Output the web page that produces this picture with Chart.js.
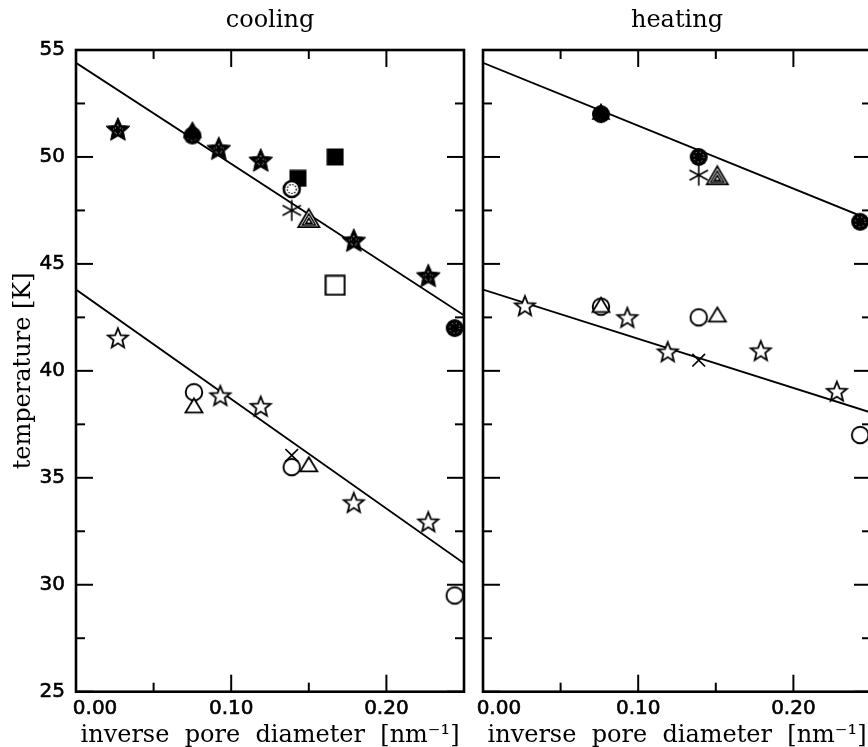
<!DOCTYPE html>
<html>
<head>
<meta charset="utf-8">
<script src="https://cdn.jsdelivr.net/npm/chart.js@4.4.1/dist/chart.umd.min.js"></script>
<style>
  html, body { margin: 0; padding: 0; background: #fff; width: 868px; height: 747px; overflow: hidden; }
  .panel { position: absolute; top: 0; width: 470px; height: 747px; }
  #coolBox { left: 0; }
  #heatBox { left: 407px; }
</style>
</head>
<body>
<div class="panel" id="coolBox"><canvas id="cool" width="470" height="747"></canvas></div>
<div class="panel" id="heatBox"><canvas id="heat" width="470" height="747"></canvas></div>
<script>
// ---- axes ----
const xMajor = [0, 0.1, 0.2];
const xMinor = [0.05, 0.15, 0.25];
const xTickLabels = ['0.00', '0.10', '0.20'];
const yMajor = [25, 30, 35, 40, 45, 50, 55];
const yMinor = [27.5, 32.5, 37.5, 42.5, 47.5, 52.5];

// ---- fit lines (values at x = 0 and x = 0.25) ----
const fitX = [0, 0.25];
const coolUpperFit = [54.4, 42.6];
const coolLowerFit = [43.8, 31.0];
const heatUpperFit = [54.4, 47.05];
const heatLowerFit = [43.8, 38.05];

// ---- cooling ----
const coolFilledStarX = [0.027, 0.092, 0.119, 0.179, 0.227];
const coolFilledStarY = [51.3, 50.4, 49.85, 46.1, 44.45];
const coolFilledTriX = [0.075];
const coolFilledTriY = [51.25];
const coolFilledCircX = [0.075, 0.244];
const coolFilledCircY = [51.0, 42.0];
const coolFilledSqX = [0.143, 0.167];
const coolFilledSqY = [49.0, 50.0];
const coolHatchCircX = [0.139];
const coolHatchCircY = [48.5];
const coolAsteriskX = [0.139];
const coolAsteriskY = [47.5];
const coolHatchTriX = [0.150];
const coolHatchTriY = [47.1];
const coolOpenSqX = [0.167];
const coolOpenSqY = [44.0];
const coolOpenStarX = [0.027, 0.093, 0.119, 0.179, 0.227];
const coolOpenStarY = [41.55, 38.85, 38.35, 33.85, 32.95];
const coolOpenCircX = [0.076, 0.139, 0.244];
const coolOpenCircY = [39.0, 35.5, 29.5];
const coolOpenTriX = [0.076, 0.150];
const coolOpenTriY = [38.35, 35.6];
const coolCrossX = [0.139];
const coolCrossY = [36.05];

// ---- heating ----
const heatFilledTriX = [0.076];
const heatFilledTriY = [52.1];
const heatFilledCircX = [0.076, 0.139, 0.243];
const heatFilledCircY = [52.0, 50.0, 46.97];
const heatAsteriskX = [0.139];
const heatAsteriskY = [49.15];
const heatHatchTriX = [0.151];
const heatHatchTriY = [49.1];
const heatOpenStarX = [0.027, 0.093, 0.119, 0.179, 0.228];
const heatOpenStarY = [43.05, 42.5, 40.9, 40.95, 39.05];
const heatOpenCircX = [0.076, 0.139, 0.243];
const heatOpenCircY = [43.0, 42.5, 37.0];
const heatOpenTriX = [0.076, 0.151];
const heatOpenTriY = [43.05, 42.6];
const heatCrossX = [0.139];
const heatCrossY = [40.5];

const serif = 'DejaVu Serif';
const sans = 'DejaVu Sans';

// marker images
function mk(w, h, draw) {
  const c = document.createElement('canvas');
  c.width = w; c.height = h;
  const g = c.getContext('2d');
  g.strokeStyle = '#000';
  g.fillStyle = '#000';
  draw(g, w / 2, h / 2);
  return c;
}
function starPath(g, cx, cy, R, r) {
  g.beginPath();
  for (let i = 0; i < 10; i++) {
    const a = -Math.PI / 2 + i * Math.PI / 5;
    const rr = i % 2 ? r : R;
    const px = cx + rr * Math.cos(a), py = cy + rr * Math.sin(a);
    if (i) g.lineTo(px, py); else g.moveTo(px, py);
  }
  g.closePath();
}
function triPath(g, cx, cy, w, h) {
  g.beginPath();
  g.moveTo(cx, cy - h * 0.55);
  g.lineTo(cx + w / 2, cy + h * 0.45);
  g.lineTo(cx - w / 2, cy + h * 0.45);
  g.closePath();
}

const marks = {
  starFilled: mk(30, 30, (g, cx, cy) => {
    starPath(g, cx, cy + 1, 12.5, 5.8); g.fill();
    g.lineWidth = 1; g.stroke();
    g.setLineDash([1, 3]); g.strokeStyle = '#fff'; g.lineWidth = 0.8;
    starPath(g, cx, cy + 1, 5.5, 2.6); g.stroke();
  }),
  starOpen: mk(26, 26, (g, cx, cy) => {
    starPath(g, cx, cy + 1, 10.5, 4.6);
    g.fillStyle = '#fff'; g.fill();
    g.lineWidth = 1.8; g.stroke();
  }),
  circOpen: mk(22, 22, (g, cx, cy) => {
    g.beginPath(); g.arc(cx, cy, 8.3, 0, Math.PI * 2);
    g.fillStyle = '#fff'; g.fill(); g.lineWidth = 1.9; g.stroke();
  }),
  circFilled: mk(22, 22, (g, cx, cy) => {
    g.beginPath(); g.arc(cx, cy, 9, 0, Math.PI * 2); g.fill();
    g.setLineDash([1, 3]); g.strokeStyle = '#fff'; g.lineWidth = 0.8;
    g.beginPath(); g.arc(cx, cy, 5, 0, Math.PI * 2); g.stroke();
  }),
  circHatch: mk(22, 22, (g, cx, cy) => {
    g.beginPath(); g.arc(cx, cy, 8, 0, Math.PI * 2);
    g.fillStyle = '#fff'; g.fill(); g.lineWidth = 2.6; g.stroke();
    g.setLineDash([1.5, 1.5]); g.lineWidth = 1.2;
    g.beginPath(); g.arc(cx, cy, 4.5, 0, Math.PI * 2); g.stroke();
  }),
  triOpen: mk(22, 20, (g, cx, cy) => {
    triPath(g, cx, cy, 17, 14);
    g.fillStyle = '#fff'; g.fill(); g.lineWidth = 1.8; g.stroke();
  }),
  triFilled: mk(24, 22, (g, cx, cy) => {
    triPath(g, cx, cy, 19, 17); g.fill();
  }),
  triHatch: mk(26, 24, (g, cx, cy) => {
    triPath(g, cx, cy, 21, 18);
    g.fillStyle = '#fff'; g.fill(); g.lineWidth = 1.8; g.stroke();
    g.lineWidth = 1.5;
    triPath(g, cx, cy + 1, 13, 11); g.stroke();
    triPath(g, cx, cy + 2, 6, 5); g.stroke();
  }),
  sqFilled: mk(18, 18, (g) => { g.fillRect(0.5, 0.5, 17, 17); }),
  sqOpen: mk(22, 22, (g, cx, cy) => {
    g.fillStyle = '#fff'; g.fillRect(cx - 9.5, cy - 9.5, 19, 19);
    g.lineWidth = 2; g.strokeRect(cx - 9.5, cy - 9.5, 19, 19);
  }),
  asterisk: mk(24, 24, (g, cx, cy) => {
    g.lineWidth = 1.6;
    [90, 28, 152].forEach(d => {
      const a = d * Math.PI / 180, dx = 10.5 * Math.cos(a), dy = 10.5 * Math.sin(a);
      g.beginPath(); g.moveTo(cx - dx, cy - dy); g.lineTo(cx + dx, cy + dy); g.stroke();
    });
  })
};

function pts(xs, ys) {
  return xs.map((x, i) => ({ x: x, y: ys[i] }));
}
function sym(xs, ys, style) {
  return {
    data: pts(xs, ys), pointStyle: style, pointRadius: 9, pointHoverRadius: 9,
    borderColor: '#000', backgroundColor: '#000', borderWidth: 1.7,
    showLine: false, clip: false, order: 0
  };
}
function fit(ys) {
  return {
    data: pts(fitX, ys), showLine: true, pointRadius: 0, pointHoverRadius: 0,
    borderColor: '#000', borderWidth: 1.8, fill: false, order: 5
  };
}

// inward tick marks on all four sides + frame
const frameTicks = {
  id: 'frameTicks',
  afterDraw(chart) {
    const { ctx, chartArea: a } = chart;
    const x = chart.scales.x, y = chart.scales.y;
    ctx.save();
    ctx.strokeStyle = '#000';
    ctx.lineWidth = 2;
    const seg = (x1, y1, x2, y2) => { ctx.beginPath(); ctx.moveTo(x1, y1); ctx.lineTo(x2, y2); ctx.stroke(); };
    const xt = (vals, len) => vals.forEach(v => {
      const p = x.getPixelForValue(v);
      seg(p, a.bottom, p, a.bottom - len);
      seg(p, a.top, p, a.top + len);
    });
    const yt = (vals, len) => vals.forEach(v => {
      const p = y.getPixelForValue(v);
      seg(a.left, p, a.left + len, p);
      seg(a.right, p, a.right - len, p);
    });
    xt(xMajor, 17); xt(xMinor, 9);
    yt(yMajor, 17); yt(yMinor, 9);
    ctx.lineWidth = 2.6;
    ctx.strokeRect(a.left, a.top, a.right - a.left, a.bottom - a.top);
    ctx.restore();
  }
};

function buildPanel(id, title, showY, firstPad, datasets) {
  return new Chart(document.getElementById(id), {
    type: 'scatter',
    data: { datasets: datasets },
    options: {
      responsive: false,
      animation: false,
      events: [],
      layout: { autoPadding: false, padding: { left: 0, right: 6, top: 0, bottom: 0 } },
      plugins: { legend: { display: false }, tooltip: { enabled: false }, title: { display: false } },
      scales: {
        x: {
          type: 'linear', position: 'bottom', min: 0, max: 0.25,
          grid: { display: false, drawTicks: false },
          border: { display: false },
          afterBuildTicks: s => { s.ticks = xMajor.map(v => ({ value: v })); },
          afterFit: s => { s.height = 55.3; s.paddingLeft = 0; s.paddingRight = 0; },
          ticks: {
            autoSkip: false, maxRotation: 0, padding: 5,
            color: '#000', font: { family: sans, size: 20 },
            textStrokeColor: '#000', textStrokeWidth: 0.6,
            callback: (v, i) => (i === 0 ? firstPad : '') + xTickLabels[i]
          },
          title: {
            display: true, text: 'inverse  pore  diameter  [nm\u207B\u00B9]', color: '#000',
            font: { family: serif, size: 24, lineHeight: 0.9 }, padding: { top: 0, bottom: 0 }
          }
        },
        xTop: {
          type: 'linear', position: 'top', min: 0, max: 0.25,
          grid: { display: false, drawTicks: false },
          border: { display: false },
          ticks: { display: false },
          afterFit: s => { s.height = 50; s.paddingLeft = 0; s.paddingRight = 0; },
          title: {
            display: true, text: title, color: '#000',
            font: { family: serif, size: 24 }, padding: { top: 6, bottom: 0 }
          }
        },
        y: {
          type: 'linear', min: 25, max: 55,
          grid: { display: false, drawTicks: false },
          border: { display: false },
          afterBuildTicks: s => { s.ticks = yMajor.map(v => ({ value: v })); },
          afterFit: s => { s.width = 76; },
          ticks: {
            display: showY, autoSkip: false, padding: 11,
            color: '#000', font: { family: sans, size: 20 },
            textStrokeColor: '#000', textStrokeWidth: 0.6
          },
          title: {
            display: showY, text: 'temperature [K]', color: '#000',
            font: { family: serif, size: 24 }, padding: { top: 9, bottom: 0 }
          }
        }
      }
    },
    plugins: [frameTicks]
  });
}

buildPanel('cool', 'cooling', true, '      ', [
  sym(coolCrossX, coolCrossY, 'crossRot'),
  sym(coolAsteriskX, coolAsteriskY, marks.asterisk),
  sym(coolFilledTriX, coolFilledTriY, marks.triFilled),
  sym(coolOpenTriX, coolOpenTriY, marks.triOpen),
  sym(coolHatchTriX, coolHatchTriY, marks.triHatch),
  sym(coolFilledCircX, coolFilledCircY, marks.circFilled),
  sym(coolHatchCircX, coolHatchCircY, marks.circHatch),
  sym(coolOpenCircX, coolOpenCircY, marks.circOpen),
  sym(coolFilledSqX, coolFilledSqY, marks.sqFilled),
  sym(coolOpenSqX, coolOpenSqY, marks.sqOpen),
  sym(coolFilledStarX, coolFilledStarY, marks.starFilled),
  sym(coolOpenStarX, coolOpenStarY, marks.starOpen),
  fit(coolUpperFit),
  fit(coolLowerFit)
]);

buildPanel('heat', 'heating', false, '     ', [
  sym(heatCrossX, heatCrossY, 'crossRot'),
  sym(heatAsteriskX, heatAsteriskY, marks.asterisk),
  sym(heatFilledTriX, heatFilledTriY, marks.triFilled),
  sym(heatOpenTriX, heatOpenTriY, marks.triOpen),
  sym(heatHatchTriX, heatHatchTriY, marks.triHatch),
  sym(heatFilledCircX, heatFilledCircY, marks.circFilled),
  sym(heatOpenCircX, heatOpenCircY, marks.circOpen),
  sym(heatOpenStarX, heatOpenStarY, marks.starOpen),
  fit(heatUpperFit),
  fit(heatLowerFit)
]);
</script>
</body>
</html>
